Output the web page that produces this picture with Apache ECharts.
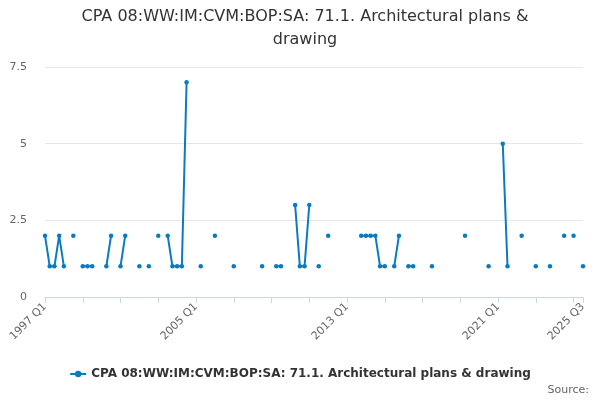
<!DOCTYPE html>
<html>
<head>
<meta charset="utf-8">
<script src="https://cdn.jsdelivr.net/npm/echarts@6/dist/echarts.min.js"></script>
<style>html,body{margin:0;padding:0;background:#fff}#c{width:600px;height:400px}</style>
</head>
<body>
<div id="c"></div>
<script>
var titleText = 'CPA 08:WW:IM:CVM:BOP:SA: 71.1. Architectural plans &\ndrawing';
var seriesName = 'CPA 08:WW:IM:CVM:BOP:SA: 71.1. Architectural plans & drawing';
var startYear = 1997;
var endYear = 2025;
var endQuarter = 3;
var yTicks = [0, 2.5, 5, 7.5];
var values = [
  2, 1, 1, 2, 1, null, 2, null, 1, 1,
  1, null, null, 1, 2, null, 1, 2, null, null,
  1, null, 1, null, 2, null, 2, 1, 1, 1,
  7, null, null, 1, null, null, 2, null, null, null,
  1, null, null, null, null, null, 1, null, null, 1,
  1, null, null, 3, 1, 1, 3, null, 1, null,
  2, null, null, null, null, null, null, 2, 2, 2,
  2, 1, 1, null, 1, 2, null, 1, 1, null,
  null, null, 1, null, null, null, null, null, null, 2,
  null, null, null, null, 1, null, null, 5, 1, null,
  null, 2, null, null, 1, null, null, 1, null, null,
  2, null, 2, null, 1
];
var categories = [];
for (var y = startYear; y <= endYear; y++) {
  for (var q = 1; q <= 4; q++) {
    if (y === endYear && q > endQuarter) break;
    categories.push(y + ' Q' + q);
  }
}
var lastIdx = categories.length - 1;
var chart = echarts.init(document.getElementById('c'), null, {renderer: 'canvas'});
chart.setOption({
  animation: false,
  title: {
    text: titleText,
    left: 300,
    top: 0,
    textAlign: 'center',
    textStyle: {fontFamily: 'DejaVu Sans', fontSize: 16, fontWeight: 'normal', color: '#333333', lineHeight: 23}
  },
  legend: {
    bottom: 15,
    left: 'center',
    itemWidth: 16,
    itemHeight: 8,
    textStyle: {fontFamily: 'DejaVu Sans', fontSize: 12, fontWeight: 'bold', color: '#333333'},
    data: [seriesName]
  },
  graphic: [{
    type: 'text',
    right: 11,
    bottom: 4,
    style: {text: 'Source:', fontFamily: 'DejaVu Sans', fontSize: 11, fill: '#666666'}
  }],
  grid: {left: 45, right: 17, top: 67, bottom: 103, containLabel: false},
  xAxis: {
    type: 'category',
    data: categories,
    boundaryGap: false,
    axisLine: {lineStyle: {color: '#ccd6eb', width: 1}},
    axisTick: {
      alignWithLabel: true,
      length: 6,
      lineStyle: {color: '#ccd6eb'},
      interval: function (i) { return i % 8 === 0 || i === lastIdx; }
    },
    axisLabel: {
      rotate: 45,
      margin: 8,
      color: '#666666',
      fontFamily: 'DejaVu Sans',
      fontSize: 11,
      interval: function (i) { return i % 32 === 0 || i === lastIdx; }
    },
    splitLine: {show: false}
  },
  yAxis: {
    type: 'value',
    min: yTicks[0],
    max: yTicks[yTicks.length - 1],
    interval: 2.5,
    axisLine: {show: false},
    axisTick: {show: false},
    axisLabel: {color: '#666666', fontFamily: 'DejaVu Sans', fontSize: 11, margin: 18},
    splitLine: {lineStyle: {color: '#e6e6e6'}}
  },
  series: [{
    name: seriesName,
    type: 'line',
    data: values,
    connectNulls: false,
    showSymbol: true,
    showAllSymbol: true,
    symbol: 'circle',
    symbolSize: 4.5,
    itemStyle: {color: '#0b7bc1'},
    lineStyle: {color: '#0b7bc1', width: 2}
  }]
});
</script>
</body>
</html>
